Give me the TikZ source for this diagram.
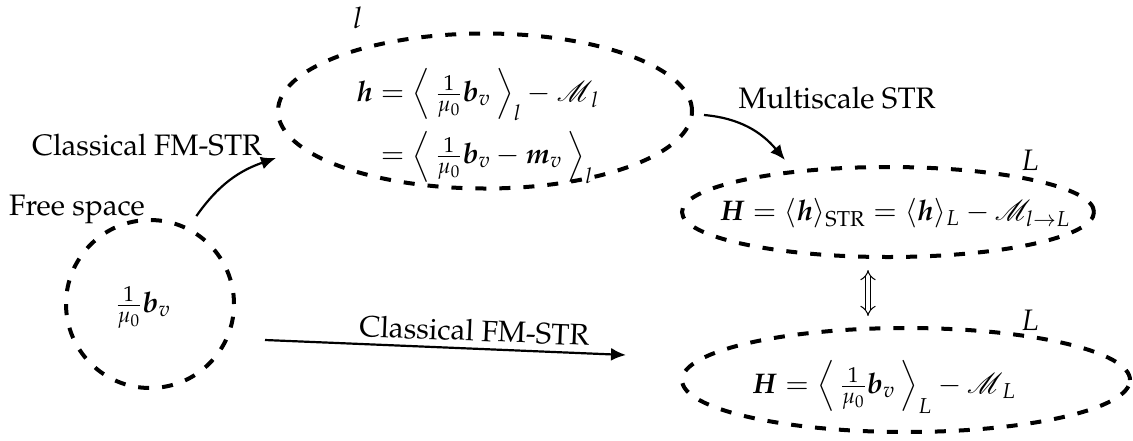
\documentclass[tikz,border=0pt]{standalone}
\usepackage[T1]{fontenc}
\usepackage{mathpazo}
\usepackage{amsmath,bm}
\usepackage{mathrsfs}
\usetikzlibrary{shapes.geometric,arrows.meta}
\begin{document}
\begin{tikzpicture}[x=0.5pt,y=-0.5pt,
  every node/.style={font=\fontsize{14.8}{17}\selectfont},
  mathnode/.style={font=\fontsize{14.2}{17}\selectfont},
  region/.style={draw, ellipse, inner sep=0pt, line width=2pt, dash pattern=on 5.5pt off 6.5pt},
  conn/.style={line width=1.1pt, -{Latex[length=7.5pt,width=6.5pt]}},
  dbl/.style={double, double distance=2.2pt, line width=0.5pt, {Implies}-{Implies}}]
\useasboundingbox (0,0) rectangle (1133,440);

% regions
\node[region, minimum width=84pt, minimum height=84pt] (fs) at (150,304) {};
\node[region, minimum width=207pt, minimum height=77.5pt] (le) at (485,111) {};
\node[region, minimum width=206pt, minimum height=45pt] (L1) at (888,212) {};
\node[region, minimum width=224pt, minimum height=52pt] (L2) at (906,380) {};

% formulas
\node[mathnode] (fsm) at (143,307) {$\frac{1}{\mu_0}\bm{b}_v$};
\node[mathnode] (lem) at (478,126) {$\begin{aligned}\bm h &= \left\langle\,\tfrac{1}{\mu_0}\bm b_v\,\right\rangle_l - \mathscr{M}_{\,l}\\[1pt] &= \left\langle\,\tfrac{1}{\mu_0}\bm b_v - \bm m_v\,\right\rangle_l\end{aligned}$};
\node[mathnode] (L1m) at (895,213) {$\bm H = \langle\bm h\rangle_{\mathrm{STR}} = \langle\bm h\rangle_L - \mathscr{M}_{l\to L}$};
\node[mathnode] (L2m) at (884,387) {$\bm H = \left\langle\,\frac{1}{\mu_0}\bm b_v\,\right\rangle_L - \mathscr{M}_{\,L}$};

% scale labels
\node (ll) at (358,18) {$l$};
\node (LL1) at (1030,160) {$L$};
\node (LL2) at (1030,320) {$L$};

% texts
\node[anchor=base] (fst) at (77,215) {Free space};
\node[anchor=base] (c1t) at (147,155) {Classical FM-STR};
\node[anchor=base] (mst) at (837,108) {Multiscale STR};

% connectors
\draw[conn] ([xshift=3pt,yshift=6pt]fs.62) to[out=55,in=199] ([yshift=-23.5pt]le.west);
\draw[conn] ([xshift=5pt,yshift=-2pt]le.east) to[out=-5,in=130] ([xshift=-51.5pt,yshift=2.5pt]L1.north);
\draw[conn] ([xshift=14.5pt,yshift=-18pt]fs.east) -- node[pos=0.578, above=3pt, sloped, inner sep=0pt] (c2t) {Classical FM-STR} ([xshift=-27pt,yshift=12.5pt]L2.west);
\draw[dbl] ([xshift=-10pt,yshift=-5.5pt]L1.south) -- ([xshift=-19pt,yshift=5pt]L2.north);
\end{tikzpicture}
\end{document}
